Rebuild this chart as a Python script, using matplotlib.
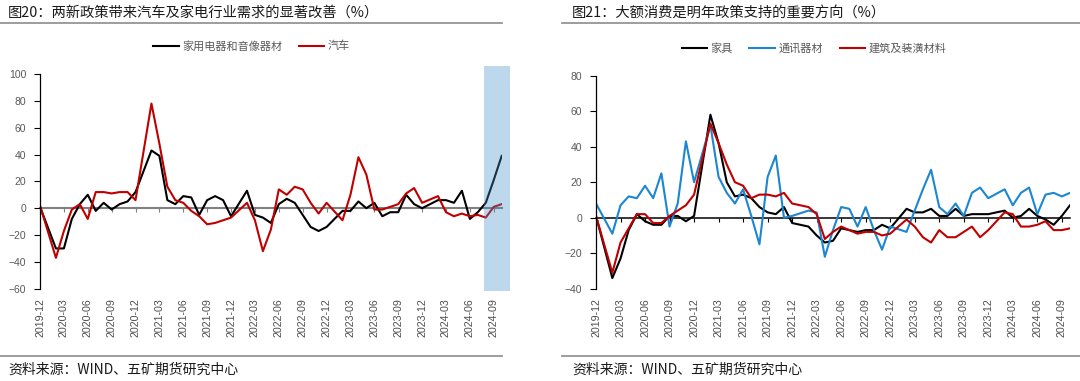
import matplotlib
matplotlib.use('Agg')
import matplotlib.pyplot as plt
from matplotlib.lines import Line2D
import numpy as np
import pandas as pd

plt.rcParams['font.family'] = ['Liberation Sans', 'Noto Sans CJK SC', 'DejaVu Sans']
CJK = ['Noto Sans CJK SC', 'DejaVu Sans']

# monthly data 2019-12 .. 2024-10, January merged into February (no Jan points)
dates = pd.date_range("2019-12-01", "2024-10-01", freq="MS")
dates = dates[dates.month != 1]
tick_dates = pd.date_range("2019-12-01", "2024-09-01", freq="3MS")

# figure 20
appliances = [1, -30, -30, -8, 3, 10, -2, 4, -1, 3, 5, 12,
              43, 39, 6, 3, 9, 8, -5, 6, 9, 6, -6,
              13, -5, -7, -11, 3, 7, 4, -5, -14, -17, -14,
              -2, -2, 5, 0, 4, -6, -3, -3, 10, 3, 0,
              6, 6, 4, 13, -8, -3, 4, 21, 39]
autos = [2, -37, -17, -1, 3, -8, 12, 12, 11, 12, 12, 6,
         78, 48, 16, 6, 4, -2, -6, -12, -11, -9, -7,
         4, -9, -32, -16, 14, 10, 16, 14, 4, -4, 4,
         -9, 10, 38, 25, -1, -1, 1, 3, 11, 15, 4,
         9, -3, -6, -4, -6, -5, -7, 1, 3]
highlight = ("2024-08", "2024-11")

# figure 21
furniture = [1, -34, -23, -7, 2, -2, -4, -4, 1, 1, -2, 1,
             58, 42, 20, 12, 13, 11, 6, 3, 2, 6, -3,
             -5, -10, -14, -13, -6, -7, -8, -7, -7, -4, -6,
             5, 3, 3, 5, 1, 1, 5, 1, 2, 2, 2,
             4, 0, 1, 5, 1, -1, -4, 1, 7]
telecom = [8, -9, 7, 12, 11, 18, 11, 25, -5, 8, 43, 20,
           52, 23, 14, 8, 16, 1, -15, 23, 35, 0, 1,
           4, 3, -22, -7, 6, 5, -5, 6, -7, -18, -5,
           -8, 4, 16, 27, 6, 2, 8, 1, 14, 17, 11,
           16, 7, 14, 17, 2, 13, 14, 12, 14]
building = [1, -31, -14, -6, 2, 2, -3, -3, 1, 4, 7, 13,
            53, 42, 30, 20, 18, 11, 13, 13, 12, 14, 8,
            6, 2, -12, -8, -5, -7, -9, -8, -8, -10, -9,
            -1, -5, -11, -14, -7, -11, -11, -8, -5, -11, -7,
            3, 2, -5, -5, -4, -2, -7, -7, -6]


def month_index(d):
    d = pd.Timestamp(d)
    return (d.year - 2019) * 12 + d.month - 12


x = np.array([month_index(d) for d in dates])
xt = [month_index(d) for d in tick_dates]
xt_labels = [d.strftime("%Y-%m") for d in tick_dates]

fig = plt.figure(figsize=(10.8, 3.81), dpi=100)
W, H = 1080, 381


def setup(ax, ylim, zero_color, zero_lw):
    ax.set_xlim(0, month_index("2024-10"))
    ax.set_ylim(*ylim)
    ax.set_yticks(np.arange(ylim[0], ylim[1] + 1, 20))
    for s in ['top', 'right', 'bottom']:
        ax.spines[s].set_visible(False)
    ax.spines['left'].set_color('black')
    ax.spines['left'].set_linewidth(0.9)
    ax.tick_params(axis='y', direction='out', length=4, width=0.8, pad=6,
                   labelsize=7.5, labelcolor='#595959', color='black')
    ax.set_xticks(xt)
    ax.set_xticklabels(xt_labels, rotation=90)
    ax.tick_params(axis='x', length=0, pad=7, labelsize=7.7, labelcolor='#4d4d4d')
    # horizontal axis crossing at zero
    zero_pos = (0 - ylim[0]) / (ylim[1] - ylim[0])
    sec = ax.secondary_xaxis(zero_pos)
    sec.set_xticks(xt)
    sec.tick_params(axis='x', direction='out', length=3, width=0.8,
                    labelbottom=False, color=zero_color)
    sec.spines['bottom'].set_color(zero_color)
    sec.spines['bottom'].set_linewidth(zero_lw)


ax1 = fig.add_axes([40 / W, 1 - 288.7 / H, 461.7 / W, 214.7 / H])
setup(ax1, (-60, 100), '#808080', 1.5)
l1, = ax1.plot(x, appliances, color='#000000', lw=1.5, label='家用电器和音像器材')
l2, = ax1.plot(x, autos, color='#C00000', lw=1.5, label='汽车')
ax1.axvspan(month_index(highlight[0]) - 0.2, month_index(highlight[1]) + 0.05,
            ymin=-0.01, ymax=1.035, color='#428DCE', alpha=0.35, lw=0,
            clip_on=False, zorder=3)

ax2 = fig.add_axes([596 / W, 1 - 288.7 / H, 474 / W, 213 / H])
setup(ax2, (-40, 80), '#000000', 1.1)
r1, = ax2.plot(x, furniture, color='#000000', lw=1.5, label='家具')
r2, = ax2.plot(x, telecom, color='#1C86D1', lw=1.5, label='通讯器材')
r3, = ax2.plot(x, building, color='#C00000', lw=1.5, label='建筑及装潢材料')

leg_kw = dict(loc='center', frameon=False, handlelength=2.3, handletextpad=0.3,
              columnspacing=1.5, labelcolor='#595959',
              prop={'family': CJK, 'size': 8})
fig.legend(handles=[l1, l2], ncol=2, bbox_to_anchor=(251.5 / W, 1 - 46 / H), **leg_kw)
fig.legend(handles=[r1, r2, r3], ncol=3, bbox_to_anchor=(814 / W, 1 - 48 / H), **leg_kw)

fig.text(8 / W, 1 - 13 / H, '图20：两新政策带来汽车及家电行业需求的显著改善（%）',
         family=CJK, fontsize=10.3, va='center', color='#1a1a1a')
fig.text(572 / W, 1 - 13 / H, '图21：大额消费是明年政策支持的重要方向（%）',
         family=CJK, fontsize=10.3, va='center', color='#1a1a1a')
fig.text(8 / W, 1 - 370 / H, '资料来源：WIND、五矿期货研究中心',
         family=CJK, fontsize=10, va='center', color='#1a1a1a')
fig.text(572 / W, 1 - 370 / H, '资料来源：WIND、五矿期货研究中心',
         family=CJK, fontsize=10, va='center', color='#1a1a1a')

for x0, x1 in [(0, 502), (562, 1080)]:
    for yy in (23, 356):
        fig.add_artist(Line2D([x0 / W, x1 / W], [1 - yy / H, 1 - yy / H],
                              color='#8c8c8c', lw=1.2))

fig.savefig('out.png', dpi=100)
